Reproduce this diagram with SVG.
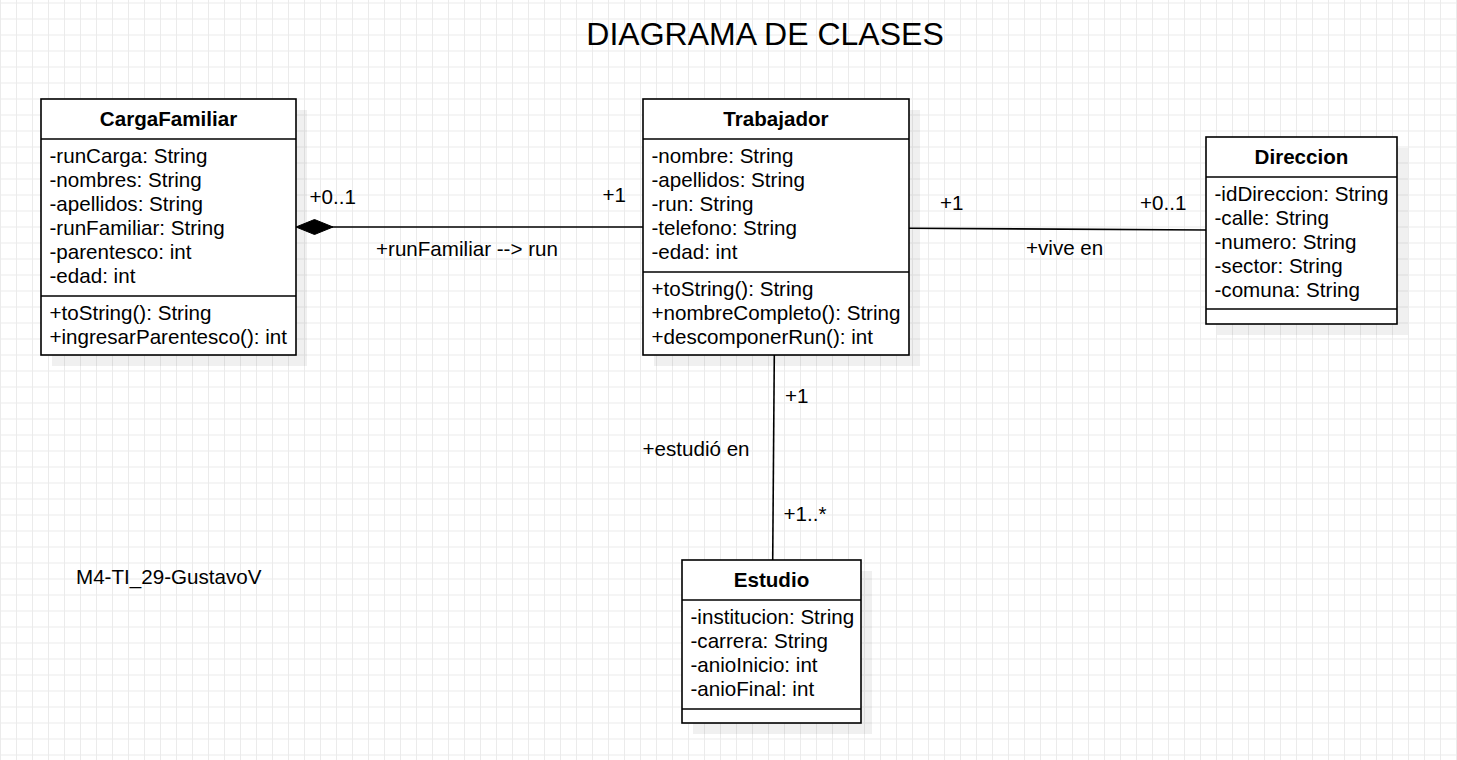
<svg xmlns="http://www.w3.org/2000/svg" width="1457" height="760" viewBox="0 0 1457 760">
<defs>
<pattern id="grid" width="16" height="16" patternUnits="userSpaceOnUse">
<path d="M0 3H16M0.5 0V16" fill="none" stroke="#ebebeb" stroke-width="1"/>
</pattern>
</defs>
<style>
.t{font-family:"Liberation Sans",Arial,sans-serif;font-size:20.6px;fill:#000}
.h{font-family:"Liberation Sans",Arial,sans-serif;font-size:20.6px;font-weight:bold;fill:#000;text-anchor:middle}
.box{fill:#fff;stroke:#000;stroke-width:1.6}
.sep{stroke:#000;stroke-width:1.6;fill:none}
.shadow{fill:#000;fill-opacity:0.06}
.ln{stroke:#000;stroke-width:1.6;fill:none}
.title{font-family:"Liberation Sans",Arial,sans-serif;font-size:32px;fill:#000;text-anchor:middle}
</style>
<rect width="1457" height="760" fill="#fff"/>
<rect width="1457" height="760" fill="url(#grid)"/>

<text class="title" x="765" y="45">DIAGRAMA DE CLASES</text>

<g id="connectors">
<line class="ln" x1="314" y1="227" x2="643" y2="227"/>
<polygon points="296,227 314.5,219.5 333,227 314.5,234.5" fill="#000" stroke="#000" stroke-width="1"/>
<line class="ln" x1="909" y1="228.3" x2="1206" y2="230"/>
<line class="ln" x1="774.3" y1="355" x2="772.7" y2="560"/>
<text class="t" x="309.5" y="204">+0..1</text>
<text class="t" x="602.5" y="201.5">+1</text>
<text class="t" x="376" y="256.2">+runFamiliar --&gt; run</text>
<text class="t" x="940" y="209.5">+1</text>
<text class="t" x="1140" y="209.5">+0..1</text>
<text class="t" x="1026" y="254.5">+vive en</text>
<text class="t" x="785" y="403">+1</text>
<text class="t" x="642.5" y="456.2">+estudió en</text>
<text class="t" x="783.5" y="520.5">+1..*</text>
</g>

<g id="CargaFamiliar">
<rect class="shadow" x="52" y="110" width="255" height="256"/>
<rect class="box" x="41" y="99" width="255" height="256"/>
<line class="sep" x1="41" y1="139" x2="296" y2="139"/>
<line class="sep" x1="41" y1="296" x2="296" y2="296"/>
<text class="h" x="168.5" y="126">CargaFamiliar</text>
<text class="t" x="49.5" y="162.5">-runCarga: String</text>
<text class="t" x="49.5" y="186.5">-nombres: String</text>
<text class="t" x="49.5" y="210.5">-apellidos: String</text>
<text class="t" x="49.5" y="234.5">-runFamiliar: String</text>
<text class="t" x="49.5" y="258.5">-parentesco: int</text>
<text class="t" x="49.5" y="282.5">-edad: int</text>
<text class="t" x="49.5" y="319.5">+toString(): String</text>
<text class="t" x="49.5" y="343.5">+ingresarParentesco(): int</text>
</g>

<g id="Trabajador">
<rect class="shadow" x="654" y="110" width="266" height="256"/>
<rect class="box" x="643" y="99" width="266" height="256"/>
<line class="sep" x1="643" y1="139" x2="909" y2="139"/>
<line class="sep" x1="643" y1="272" x2="909" y2="272"/>
<text class="h" x="776" y="126">Trabajador</text>
<text class="t" x="651.5" y="162.5">-nombre: String</text>
<text class="t" x="651.5" y="186.5">-apellidos: String</text>
<text class="t" x="651.5" y="210.5">-run: String</text>
<text class="t" x="651.5" y="234.5">-telefono: String</text>
<text class="t" x="651.5" y="258.5">-edad: int</text>
<text class="t" x="651.5" y="295.5">+toString(): String</text>
<text class="t" x="651.5" y="319.5">+nombreCompleto(): String</text>
<text class="t" x="651.5" y="343.5">+descomponerRun(): int</text>
</g>

<g id="Direccion">
<rect class="shadow" x="1217" y="148" width="191" height="187"/>
<rect class="box" x="1206" y="137" width="191" height="187"/>
<line class="sep" x1="1206" y1="177" x2="1397" y2="177"/>
<line class="sep" x1="1206" y1="309" x2="1397" y2="309"/>
<text class="h" x="1301.5" y="164">Direccion</text>
<text class="t" x="1214.5" y="200.5">-idDireccion: String</text>
<text class="t" x="1214.5" y="224.5">-calle: String</text>
<text class="t" x="1214.5" y="248.5">-numero: String</text>
<text class="t" x="1214.5" y="272.5">-sector: String</text>
<text class="t" x="1214.5" y="296.5">-comuna: String</text>
</g>

<g id="Estudio">
<rect class="shadow" x="693" y="571" width="179" height="163"/>
<rect class="box" x="682" y="560" width="179" height="163"/>
<line class="sep" x1="682" y1="600" x2="861" y2="600"/>
<line class="sep" x1="682" y1="709" x2="861" y2="709"/>
<text class="h" x="771.5" y="587">Estudio</text>
<text class="t" x="690.5" y="623.5">-institucion: String</text>
<text class="t" x="690.5" y="647.5">-carrera: String</text>
<text class="t" x="690.5" y="671.5">-anioInicio: int</text>
<text class="t" x="690.5" y="695.5">-anioFinal: int</text>
</g>

<g id="note">
<text class="t" x="76" y="584">M4-TI_29-GustavoV</text>
</g>
</svg>
